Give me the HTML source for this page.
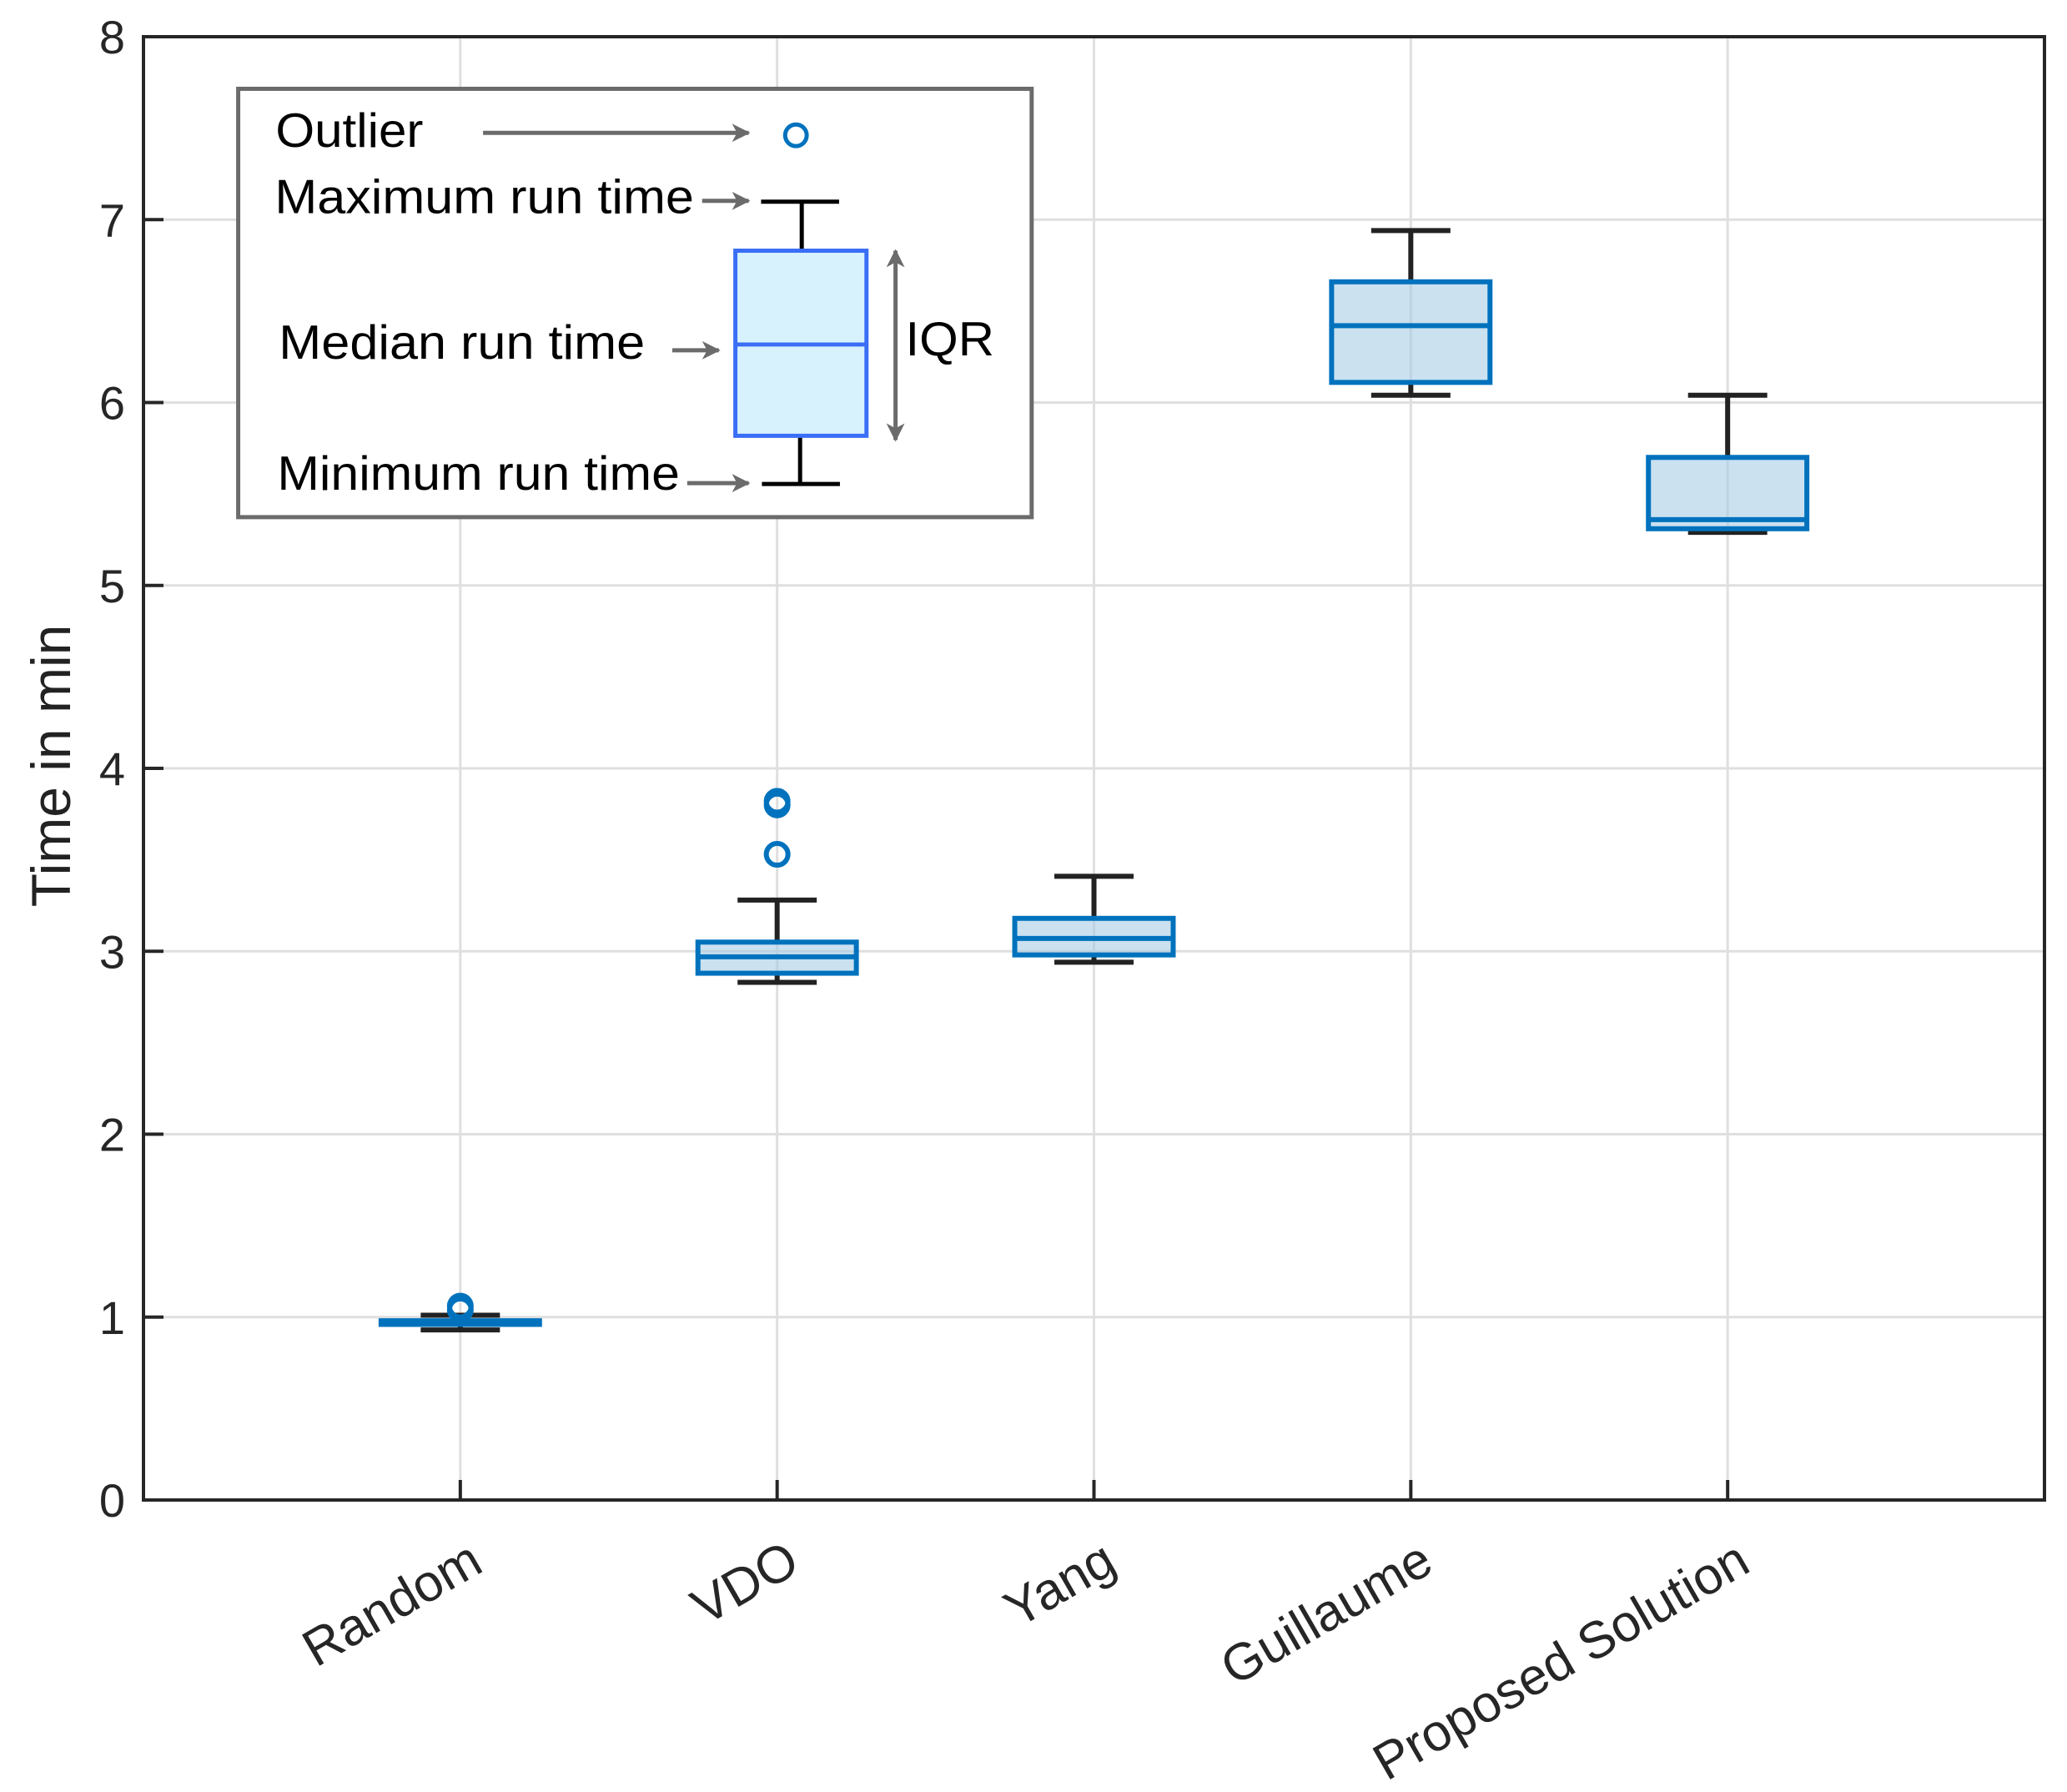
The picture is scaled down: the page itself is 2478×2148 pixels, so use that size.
<!DOCTYPE html>
<html><head><meta charset="utf-8"><style>
html,body{margin:0;padding:0;background:#fff;}
svg{display:block;font-family:"Liberation Sans",Arial,sans-serif;}
</style></head><body>
<svg id="chart" width="2478" height="2148" viewBox="0 0 2478 2148">
<g id="grid"></g>
<g id="marks"></g>
<g id="axes"></g>
<text transform="translate(84,918) rotate(-90)" text-anchor="middle" font-size="66" fill="#222">Time in min</text>
<g transform="scale(0.995)">
  <rect x="287" y="107" width="956" height="516" fill="#fff" stroke="#6b6b6b" stroke-width="5"/>
  <defs><marker id="ah" markerWidth="22" markerHeight="22" refX="20" refY="11" orient="auto-start-reverse" markerUnits="userSpaceOnUse" viewBox="0 0 22 22"><path d="M0,0 L22,11 L0,22 L6,11 Z" fill="#6b6b6b"/></marker></defs>
  <text x="332" y="177" font-size="58" textLength="178" lengthAdjust="spacingAndGlyphs">Outlier</text>
  <text x="331" y="257" font-size="58" textLength="505" lengthAdjust="spacingAndGlyphs">Maximum run time</text>
  <text x="336" y="432" font-size="58" textLength="441" lengthAdjust="spacingAndGlyphs">Median run time</text>
  <text x="334" y="590" font-size="58" textLength="485" lengthAdjust="spacingAndGlyphs">Minimum run time</text>
  <text x="1091" y="428" font-size="58" textLength="107" lengthAdjust="spacingAndGlyphs">IQR</text>
  <g stroke="#6b6b6b" stroke-width="5" fill="none">
    <line x1="582" y1="160" x2="902" y2="160" marker-end="url(#ah)"/>
    <line x1="846" y1="242" x2="902" y2="242" marker-end="url(#ah)"/>
    <line x1="810" y1="422" x2="866" y2="422" marker-end="url(#ah)"/>
    <line x1="828" y1="582" x2="902" y2="582" marker-end="url(#ah)"/>
    <line x1="1079" y1="302" x2="1079" y2="530" marker-start="url(#ah)" marker-end="url(#ah)"/>
  </g>
  <circle cx="959" cy="163" r="13" fill="none" stroke="#0072BD" stroke-width="5"/>
  <line x1="966" y1="243" x2="966" y2="302" stroke="#000" stroke-width="5"/>
  <line x1="917" y1="243" x2="1011" y2="243" stroke="#000" stroke-width="5"/>
  <line x1="964" y1="525" x2="964" y2="583" stroke="#000" stroke-width="5"/>
  <line x1="918" y1="583" x2="1012" y2="583" stroke="#000" stroke-width="5"/>
  <rect x="886" y="302" width="158" height="223" fill="#d7f1fd" stroke="#3a6ef5" stroke-width="5"/>
  <line x1="886" y1="415" x2="1044" y2="415" stroke="#3a6ef5" stroke-width="5"/>
</g>
</svg>
<script>
const categories = ["Random","VDO","Yang","Guillaume","Proposed Solution"];
const mins    = [0.93, 2.83, 2.94, 6.04, 5.29];
const q1s     = [0.96, 2.88, 2.98, 6.11, 5.31];
const medians = [0.97, 2.97, 3.07, 6.42, 5.36];
const q3s     = [0.98, 3.05, 3.18, 6.66, 5.70];
const maxs    = [1.01, 3.28, 3.41, 6.94, 6.04];
const outliers = [[1.04, 1.06], [3.53, 3.80, 3.82], [], [], []];
const yTicks = [0,1,2,3,4,5,6,7,8];

const NS = "http://www.w3.org/2000/svg";
const L = 172, R = 2451, T = 44, B = 1798;
const xScale = v => L + (v / 6) * (R - L);
const yScale = v => B - (v / 8) * (B - T);
function mk(parent, tag, attrs) {
  const e = document.createElementNS(NS, tag);
  for (const k in attrs) e.setAttribute(k, attrs[k]);
  parent.appendChild(e);
  return e;
}
const grid = document.getElementById("grid");
const marks = document.getElementById("marks");
const axes = document.getElementById("axes");

yTicks.forEach(t => {
  const g = mk(grid, "line", {x1: L, x2: R, y1: yScale(t), y2: yScale(t), stroke: "#dfdfdf", "stroke-width": 3});
  
  
  const tk = mk(axes, "line", {x1: L, x2: L + 24, y1: yScale(t), y2: yScale(t), stroke: "#262626", "stroke-width": 4});
  
  
  const lb = mk(axes, "text", {x: L - 22, y: yScale(t) + 20, "text-anchor": "end", "font-size": 56, fill: "#262626"});
  lb.textContent = t;
  
  
});
categories.forEach((c, i) => {
  const x = xScale(i + 1);
  const g = mk(grid, "line", {x1: x, x2: x, y1: T, y2: B, stroke: "#dfdfdf", "stroke-width": 3});
  
  
  const tk = mk(axes, "line", {x1: x, x2: x, y1: B, y2: B - 24, stroke: "#262626", "stroke-width": 4});
  
  
  const lb = mk(axes, "text", {x: 0, y: 0, "text-anchor": "end", "font-size": 62, fill: "#262626",
    transform: `translate(${x + 30},${B + 84}) rotate(-30)`});
  lb.textContent = c;
  
  
});
const frame = mk(axes, "rect", {x: L, y: T, width: R - L, height: B - T, fill: "none", stroke: "#262626", "stroke-width": 4});



categories.forEach((c, i) => {
  const x = xScale(i + 1);
  const bw = xScale(0.25) - xScale(0), cw = xScale(0.125) - xScale(0);
  const g = mk(marks, "g", {});
  
  
  const w1 = mk(g, "line", {x1: x, x2: x, y1: yScale(q3s[i]), y2: yScale(maxs[i]), stroke: "#222", "stroke-width": 6});
  
  
  const w2 = mk(g, "line", {x1: x, x2: x, y1: yScale(q1s[i]), y2: yScale(mins[i]), stroke: "#222", "stroke-width": 6});
  
  
  const c1 = mk(g, "line", {x1: x - cw, x2: x + cw, y1: yScale(maxs[i]), y2: yScale(maxs[i]), stroke: "#222", "stroke-width": 6});
  
  
  const c2 = mk(g, "line", {x1: x - cw, x2: x + cw, y1: yScale(mins[i]), y2: yScale(mins[i]), stroke: "#222", "stroke-width": 6});
  
  
  const bx = mk(g, "rect", {x: x - bw, y: yScale(q3s[i]), width: 2 * bw, height: yScale(q1s[i]) - yScale(q3s[i]),
    fill: "rgba(160,200,228,0.55)", stroke: "#0072BD", "stroke-width": 6});
  
  
  const md = mk(g, "line", {x1: x - bw, x2: x + bw, y1: yScale(medians[i]), y2: yScale(medians[i]), stroke: "#0072BD", "stroke-width": 6});
  
  
  outliers[i].forEach(v => {
    const o = mk(g, "circle", {cx: x, cy: yScale(v), r: 13, fill: "none", stroke: "#0072BD", "stroke-width": 6});
    
    
  });
});
</script>
</body></html>
